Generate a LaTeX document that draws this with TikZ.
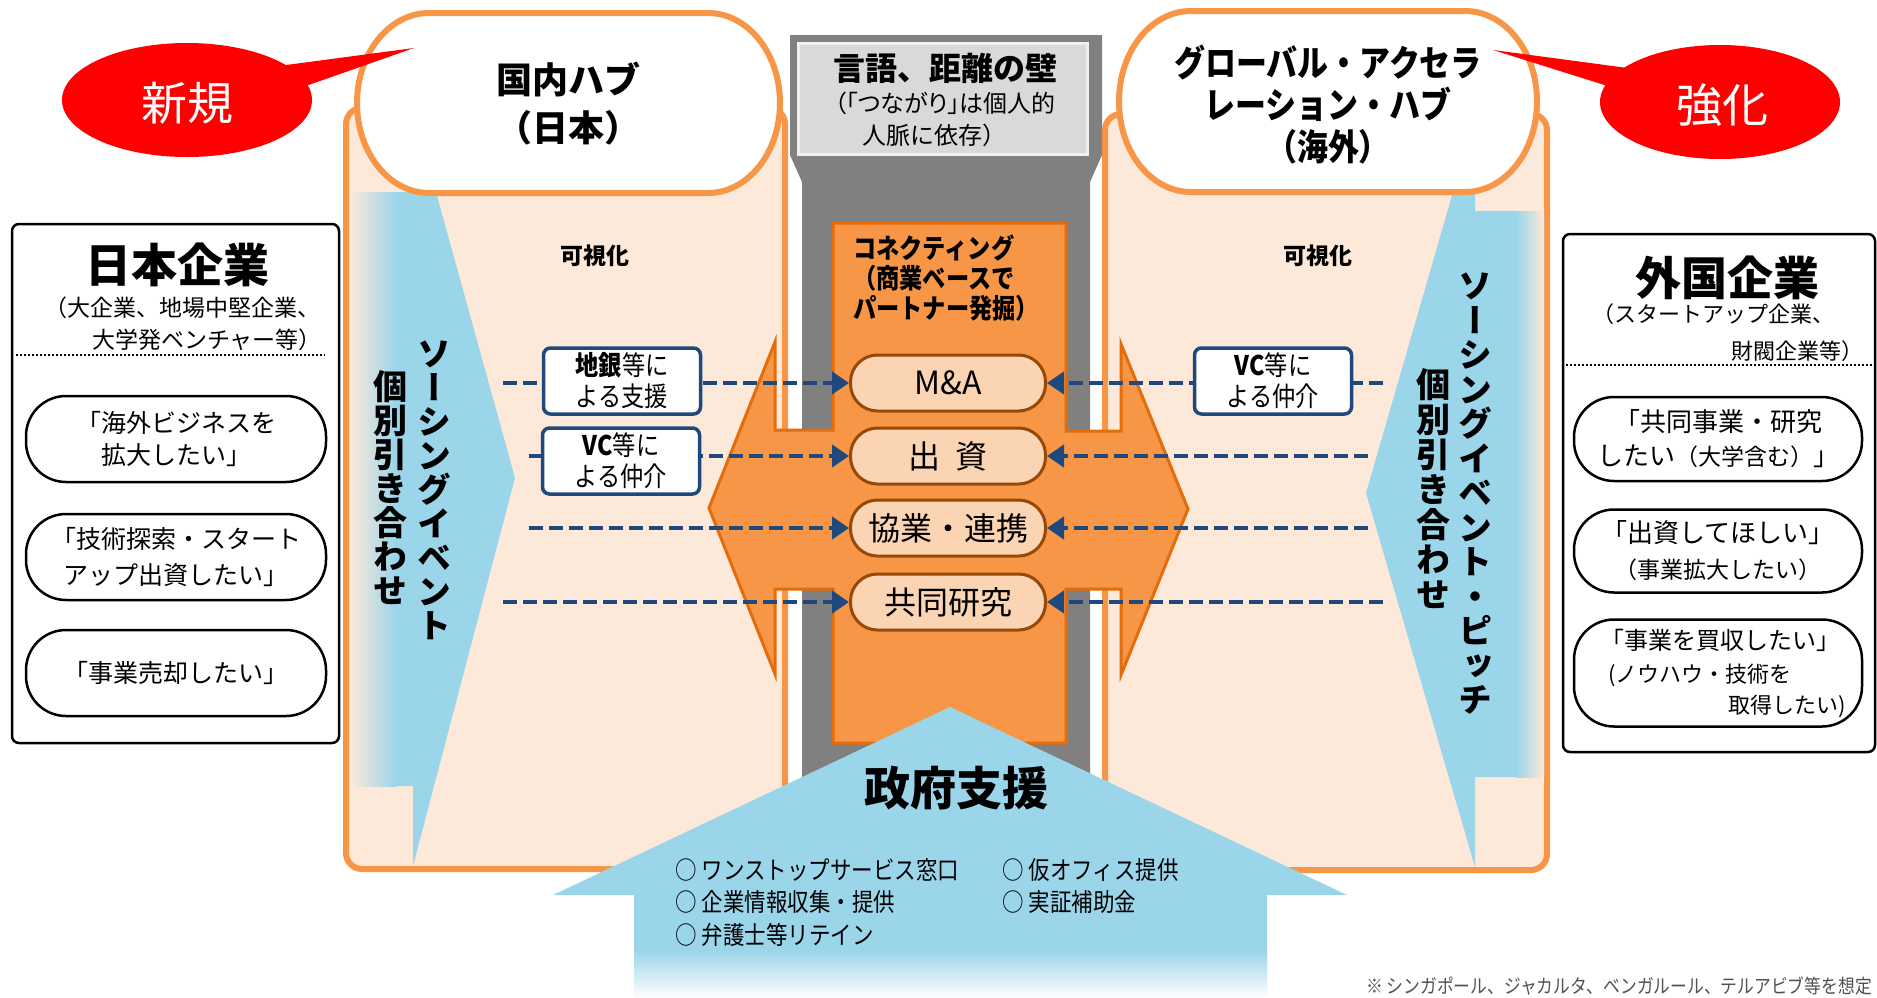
\documentclass[tikz,border=0pt]{standalone}
\usepackage{fontspec}
\setmainfont{Noto Sans CJK JP}
\newfontfamily\cf{Noto Sans CJK JP}[FakeStretch=0.86]
\newfontfamily\pf{Noto Sans CJK JP}[RawFeature=+palt]
\newfontfamily\vfont{Noto Sans CJK JP}[RawFeature=+vert]
\usetikzlibrary{arrows.meta}
\definecolor{peach}{RGB}{253,233,217}
\definecolor{orng}{RGB}{247,150,70}
\definecolor{dorng}{RGB}{228,108,10}
\definecolor{pillfill}{RGB}{251,212,180}
\definecolor{pilldraw}{RGB}{152,72,7}
\definecolor{skyb}{RGB}{155,213,234}
\definecolor{wallgray}{RGB}{128,128,128}
\definecolor{lgray}{RGB}{217,217,217}
\definecolor{navy}{RGB}{31,73,125}
\definecolor{fgray}{RGB}{80,80,80}
\newcommand{\fsz}[2]{\fontsize{#1}{#2}\selectfont}
\begin{document}
\begin{tikzpicture}[x=1pt,y=-1pt,
  panel/.style={fill=peach,draw=orng,line width=6pt,rounded corners=16pt},
  capline/.style={fill=white,draw=orng,line width=6pt},
  txt/.style={inner sep=0pt,align=center},
  vtxt/.style={inner sep=0pt,align=center,font={\vfont\fsz{34}{34}\bfseries}},
  midpill/.style={draw=pilldraw,fill=pillfill,line width=3pt,rounded corners=27pt,minimum width=195pt,minimum height=56pt,inner sep=0pt,font=\fsz{32}{36}},
  navybox/.style={draw=navy,fill=white,line width=3.5pt,rounded corners=7pt,minimum width=157pt,minimum height=66pt,inner sep=0pt,align=center,font={\cf\fsz{27}{31}}},
  compbox/.style={draw=black,fill=white,line width=2.5pt,rounded corners=7pt,inner sep=0pt},
  cpill/.style={draw=black,fill=white,line width=2.5pt,rounded corners=40pt,minimum width=300pt,inner sep=0pt,align=center},
  dasharrow/.style={draw=navy,line width=4.5pt,dash pattern=on 14pt off 6pt,-{Triangle[length=17pt,width=22pt]}},
  bullet/.style={inner sep=0pt,anchor=west,font={\cf\fsz{25}{28}}},
  dotrule/.style={draw=black,line width=2pt,dash pattern=on 2pt off 2pt},
]
\useasboundingbox (0,0) rectangle (1877,997);
\clip (0,0) rectangle (1877,997);

% hub panels
\draw[panel] (346,108) rectangle (785,869);
\draw[panel] (1105,114) rectangle (1547,870);

% sourcing chevrons
\fill[skyb] (350,192) -- (436,192) -- (515,478) -- (413,866) -- (413,786) -- (350,786) -- cycle;
\shade[left color=peach,right color=skyb] (350,192) rectangle (396,786);
\fill[skyb] (1544,211) -- (1475,211) -- (1475,192) -- (1453,192) -- (1366,493) -- (1475,867) -- (1475,777) -- (1544,777) -- cycle;
\shade[left color=skyb,right color=peach] (1516,211) rectangle (1544,777);

% wall column
\fill[wallgray] (790,35) -- (1102,35) -- (1102,155) -- (1090,182) -- (1090,890) -- (802,890) -- (802,182) -- (790,155) -- cycle;
\node[fill=lgray,draw=white!88!gray,line width=3pt,minimum width=289pt,minimum height=111pt,inner sep=0pt] (wallbox) at (942.5,98.5) {};
\node[txt,font={\bfseries\fsz{32}{36}}] (wallt) at (945,68) {言語、距離の壁};
\node[txt,anchor=west,font={\pf\fsz{24}{26}}] (walls1) at (834,103) {（「つながり」は個人的};
\node[txt,anchor=west,font=\fsz{24}{26}] (walls2) at (862,135) {人脈に依存）};

% orange connecting cross
\draw[fill=orng,draw=dorng,line width=3pt] (833,223) -- (1066,223) -- (1066,431) -- (1121,431) -- (1121,344) -- (1188,509) -- (1121,675) -- (1121,589) -- (1066,589) -- (1066,743) -- (833,743) -- (833,589) -- (775,589) -- (775,674) -- (709,508) -- (775,342) -- (775,430) -- (833,430) -- cycle;
\node[txt,align=left,anchor=north west,font={\cf\bfseries\fsz{27}{30}}] (conn) at (853,235) {コネクティング\\（商業ベースで\\パートナー発掘）};

% visualisation labels
\node[txt,font={\bfseries\fsz{23}{26}}] (visl) at (595,256) {可視化};
\node[txt,font={\bfseries\fsz{23}{26}}] (visr) at (1318,256) {可視化};

% centre pills
\node[midpill] (ma) at (948,383) {M\&A};
\node[midpill] (inv) at (948,456) {出\hspace{0.45em}資};
\node[midpill] (coop) at (948,528) {協業・連携};
\node[midpill] (jres) at (948,602) {共同研究};

% dashed connectors
\coordinate (la1) at (503,383);
\coordinate (la2) at (529,456);
\coordinate (la3) at (529,528);
\coordinate (la4) at (503,602);
\coordinate (ra1) at (1383,383);
\coordinate (ra2) at (1368,456);
\coordinate (ra3) at (1368,528);
\coordinate (ra4) at (1383,602);
\draw[dasharrow] (la1) -- (ma.west);
\draw[dasharrow] (la2) -- (inv.west);
\draw[dasharrow] (la3) -- (coop.west);
\draw[dasharrow] (la4) -- (jres.west);
\draw[dasharrow] (ra1) -- (ma.east);
\draw[dasharrow] (ra2) -- (inv.east);
\draw[dasharrow] (ra3) -- (coop.east);
\draw[dasharrow] (ra4) -- (jres.east);

% intermediary boxes
\node[navybox] (jigin) at (622,381) {{\bfseries 地銀}等に\\よる支援};
\node[navybox] (vcl) at (621,461) {{\bfseries VC}等に\\よる仲介};
\node[navybox] (vcr) at (1273,381) {{\bfseries VC}等に\\よる仲介};

% vertical texts
\node[vtxt] (lsrc) at (434,490) {ソ\\ー\\シ\\ン\\グ\\イ\\ベ\\ン\\ト};
\node[vtxt] (lind) at (390,488) {個\\別\\引\\き\\合\\わ\\せ};
\node[vtxt,font={\vfont\fsz{34}{34.5}\bfseries}] (rsrc) at (1475,494) {ソ\\ー\\シ\\ン\\グ\\イ\\ベ\\ン\\ト\\・\\ピ\\ッ\\チ};
\node[vtxt,font={\vfont\fsz{34}{35}\bfseries}] (rind) at (1433,489) {個\\別\\引\\き\\合\\わ\\せ};

% hub caps
\draw[capline] (429,13) -- (708,13) .. controls (747.8,13) and (780,53.3) .. (780,103) .. controls (780,152.7) and (747.8,193) .. (708,193) -- (429,193) .. controls (389.2,193) and (357,152.7) .. (357,103) .. controls (357,53.3) and (389.2,13) .. (429,13) -- cycle;
\draw[capline] (1191,11) -- (1465,11) .. controls (1504.8,11) and (1537,51) .. (1537,101.5) .. controls (1537,152) and (1504.8,192) .. (1465,192) -- (1191,192) .. controls (1151.2,192) and (1119,152) .. (1119,101.5) .. controls (1119,51) and (1151.2,11) .. (1191,11) -- cycle;
\node[txt,font={\bfseries\fsz{36}{48}}] (hubjp) at (568,104) {国内ハブ\\（日本）};
\node[txt,font={\cf\bfseries\fsz{36}{42}}] (hubgl) at (1328,105) {グローバル・アクセラ\\レーション・ハブ\\（海外）};

% red callouts
\fill[red] (187,100) ellipse [x radius=125pt,y radius=57pt];
\fill[red] (260,68.5) -- (414,48) -- (283,94) -- cycle;
\node[txt,text=white,font=\fsz{46}{50}] (shinki) at (187,103) {新規};
\fill[red] (1720,102) ellipse [x radius=120pt,y radius=57pt];
\fill[red] (1650,71) -- (1493,50) -- (1630,93) -- cycle;
\node[txt,text=white,font=\fsz{46}{50}] (kyoka) at (1722,105) {強化};

% Japanese companies
\node[compbox,minimum width=327pt,minimum height=519pt] (jpbox) at (175.5,483.5) {};
\node[txt,font={\bfseries\fsz{46}{50}}] (jptitle) at (177,265) {日本企業};
\node[txt,anchor=west,font=\fsz{23}{28}] (jpsub1) at (44,308) {（大企業、地場中堅企業、};
\node[txt,anchor=east,font=\fsz{23}{28}] (jpsub2) at (322,340) {大学発ベンチャー等）};
\draw[dotrule] (16,355) -- (325,355);
\node[cpill,minimum height=86pt,font=\fsz{25}{32}] (jp1) at (176,439) {「海外ビジネスを\\拡大したい」};
\node[cpill,minimum height=86pt,font=\fsz{25}{36}] (jp2) at (176,557) {「技術探索・スタート\\アップ出資したい」};
\node[cpill,minimum height=86pt,font=\fsz{25}{32}] (jp3) at (176,673) {「事業売却したい」};

% foreign companies
\node[compbox,minimum width=312pt,minimum height=518pt] (fgbox) at (1719,493) {};
\node[txt,font={\bfseries\fsz{46}{50}}] (fgtitle) at (1727,278) {外国企業};
\node[txt,anchor=west,font=\fsz{22}{26}] (fgsub1) at (1592,314) {（スタートアップ企業、};
\node[txt,anchor=east,font=\fsz{22}{26}] (fgsub2) at (1864,351) {財閥企業等）};
\draw[dotrule] (1566,365) -- (1872,365);
\node[cpill,minimum width=288pt,minimum height=84pt,font=\fsz{26}{34}] (fg1) at (1718,439) {「共同事業・研究\\したい{\fsz{23}{34}（大学含む）}」};
\node[cpill,minimum width=288pt,minimum height=83pt,font=\fsz{26}{36}] (fg2) at (1718,551) {「出資してほしい」\\{\fsz{23}{36}（事業拡大したい）}};
\node[cpill,minimum width=288pt,minimum height=107pt] (fg3) at (1718,673) {};
\node[txt,anchor=west,font=\fsz{24}{28}] (fg3a) at (1600,640) {「事業を買収したい」};
\node[txt,anchor=west,font=\fsz{22}{26}] (fg3b) at (1608,675) {(ノウハウ・技術を};
\node[txt,anchor=east,font=\fsz{22}{26}] (fg3c) at (1846,706) {取得したい)};

% government support arrow
\fill[skyb] (950,707) -- (1347,895) -- (1267,895) -- (1267,997) -- (634,997) -- (634,895) -- (553,895) -- cycle;
\shade[top color=skyb,bottom color=white] (634,950) rectangle (1267,998);
\node[txt,font={\bfseries\fsz{46}{50}}] (govt) at (956,788) {政府支援};
\node[bullet] (b1) at (675,870) {○ ワンストップサービス窓口};
\node[bullet] (b2) at (675,902) {○ 企業情報収集・提供};
\node[bullet] (b3) at (675,935) {○ 弁護士等リテイン};
\node[bullet] (b4) at (1002,870) {○ 仮オフィス提供};
\node[bullet] (b5) at (1002,902) {○ 実証補助金};

% footnote
\node[txt,anchor=east,text=fgray,font={\cf\fsz{19.5}{24}}] (note) at (1872,986) {※ シンガポール、ジャカルタ、ベンガルール、テルアビブ等を想定};
\end{tikzpicture}
\end{document}
